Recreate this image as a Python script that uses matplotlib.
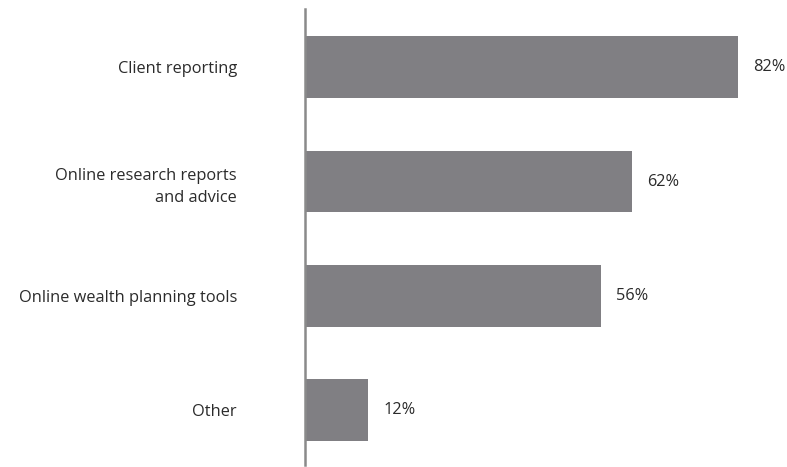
import matplotlib
matplotlib.use("Agg")
import matplotlib.pyplot as plt
from matplotlib.transforms import offset_copy

categories = ["Client reporting", "Online research reports\nand advice",
              "Online wealth planning tools", "Other"]
values = [82, 62, 56, 12]
value_labels = ["82%", "62%", "56%", "12%"]

W, H = 787, 467
fig = plt.figure(figsize=(W / 100, H / 100), dpi=100)
ax = fig.add_axes([305 / W, 2 / H, 475 / W, 456 / H])

bar_color = "#807f83"
text_color = "#2b2b2b"
fonts = ["Open Sans", "DejaVu Sans"]
fsize = 11.8

y = list(range(len(categories)))
ax.barh(y, values, height=0.54, color=bar_color, zorder=2)
ax.set_xlim(0, 90)
ax.set_ylim(3.48, -0.51)

for sp in ["top", "right", "bottom"]:
    ax.spines[sp].set_visible(False)
ax.spines["left"].set_color("#8a8a8a")
ax.spines["left"].set_linewidth(1.8)
ax.spines["left"].set_zorder(3)
ax.set_xticks([])
ax.set_yticks(y)
ax.set_yticklabels(categories, fontsize=fsize, color=text_color,
                   family=fonts, ha="right",
                   multialignment="right", linespacing=1.55)
ax.tick_params(axis="y", length=0, pad=49)

for yi, v, lab in zip(y, values, value_labels):
    ax.text(v, yi, lab, transform=offset_copy(ax.transData, fig=fig, x=15, y=0, units="dots"),
            va="center", ha="left", fontsize=fsize, color=text_color,
            family=fonts)

fig.savefig("out.png", dpi=100)
